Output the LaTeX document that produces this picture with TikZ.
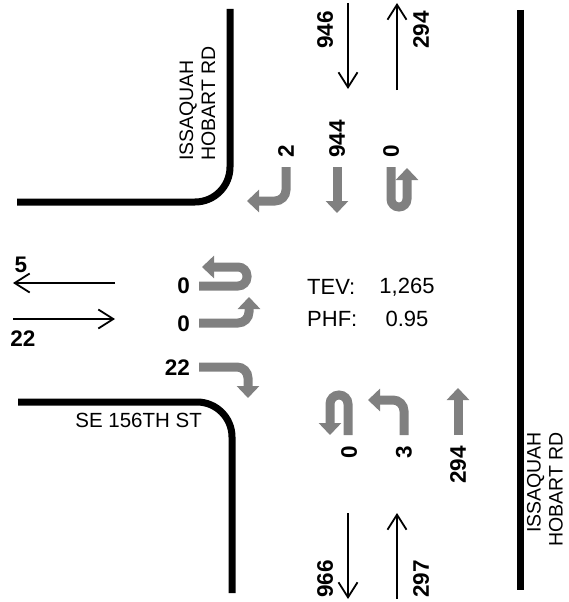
\documentclass[tikz,border=0pt]{standalone}
\usepackage{fontspec}
\setmainfont{Liberation Sans}
\usepackage{tikz}
\usetikzlibrary{arrows.meta, positioning}
\definecolor{mroad}{HTML}{000000}
\definecolor{mmove}{HTML}{808080}
\tikzset{
  road/.style={line width=7pt, mroad, rounded corners=35pt},
  vol/.style={-{Straight Barb[length=15pt,width=19pt]}, line width=1.8pt, black},
  mvt/.style={-{Triangle[length=12pt,width=22pt]}, line width=9pt, mmove, rounded corners=11pt},
  num/.style={font=\fontsize{22.5}{26}\selectfont\bfseries, inner sep=0pt},
  lbl/.style={font=\fontsize{19.5}{22}\selectfont, inner sep=0pt},
  txt/.style={font=\fontsize{22}{26}\selectfont, inner sep=0pt},
}
\begin{document}
\begin{tikzpicture}[x=1pt, y=-1pt]
  \useasboundingbox (0,0) rectangle (569,602);
  % curbs
  \draw[road] (230,9) -- (230,202) -- (17,202);
  \draw[road] (18,402) -- (232,402) -- (232,593);
  \draw[road] (520,10) -- (520,590);
  \node[lbl, rotate=90, anchor=west, align=left] (rdnw) at (197.5,161) {ISSAQUAH\\HOBART RD};
  \node[lbl, rotate=90, anchor=east, align=right] (rdse) at (545,432) {ISSAQUAH\\HOBART RD};
  \node[lbl, font=\fontsize{20.5}{24}\selectfont, anchor=east] (rdsw) at (202,420) {SE 156TH ST};

  % approach volumes
  \draw[vol] (348,3) -- (348,89);
  \draw[vol] (397,90) -- (397,3);
  \node[num, rotate=90] (sbin) at (325,30) {946};
  \node[num, rotate=90] (nbout) at (421,30) {294};
  \draw[vol] (348,513) -- (348,599);
  \draw[vol] (397,599) -- (397,513);
  \node[num, rotate=90] (sbout) at (325,579) {966};
  \node[num, rotate=90] (nbin) at (421,579) {297};
  \draw[vol] (115,283) -- (13,283);
  \draw[vol] (13,319) -- (115,319);
  \node[num] (wbout) at (21,265) {5};
  \node[num] (ebin) at (23,339) {22};

  % southbound
  \draw[mvt] (286,167) -- (286,201) -- (247,201);
  \draw[mvt] (337,167) -- (337,213);
  \draw[mvt, rounded corners=8pt] (391,167) -- (391,207) -- (407,207) -- (407,168);
  \node[num, rotate=90, anchor=west] (sbr) at (286,158) {2};
  \node[num, rotate=90, anchor=west] (sbt) at (337,158) {944};
  \node[num, rotate=90, anchor=west] (sbu) at (391,158) {0};

  % northbound
  \draw[mvt, rounded corners=9pt] (348,435) -- (348,395) -- (330,395) -- (330,435);
  \draw[mvt] (404,435) -- (404,400) -- (368,400);
  \draw[mvt] (458,435) -- (458,388);
  \node[num, rotate=90, anchor=east] (nbu) at (349,446) {0};
  \node[num, rotate=90, anchor=east] (nbl) at (404,446) {3};
  \node[num, rotate=90, anchor=east] (nbt) at (458,446) {294};

  % eastbound
  \draw[mvt, rounded corners=9pt] (199,286) -- (247,286) -- (247,267) -- (202,267);
  \draw[mvt] (199,323) -- (249,323) -- (249,297);
  \draw[mvt] (199,367) -- (248,367) -- (248,398);
  \node[num, anchor=east] (ebu) at (190,286) {0};
  \node[num, anchor=east] (ebl) at (190,324) {0};
  \node[num, anchor=east] (ebr) at (190,368) {22};

  \node[txt, anchor=west] (tev) at (307,287) {TEV:};
  \node[txt] (tevv) at (407,287) {1,265};
  \node[txt, anchor=west] (phf) at (307,319) {PHF:};
  \node[txt] (phfv) at (407,319) {0.95};
\end{tikzpicture}
\end{document}
